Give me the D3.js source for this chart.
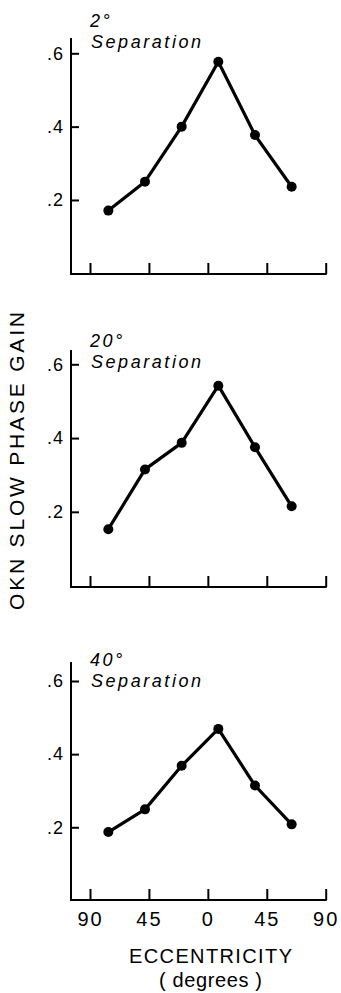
<!DOCTYPE html>
<html><head><meta charset="utf-8">
<script src="https://cdn.jsdelivr.net/npm/d3@7"></script>
<style>body{margin:0;background:#fff}svg{display:block}</style>
</head><body><svg id="c" width="341" height="993"></svg>
<script>
// ---- data ----
const eccentricity = [-76, -48, -20, 8, 36, 64];
const separations = ["2°", "20°", "40°"];
const gain2 = [0.171, 0.25, 0.40, 0.577, 0.377, 0.236];
const gain20 = [0.153, 0.315, 0.387, 0.542, 0.375, 0.215];
const gain40 = [0.187, 0.249, 0.368, 0.469, 0.314, 0.208];
const xTicks = [-90, -45, 0, 45, 90];
const yTicks = [0.2, 0.4, 0.6];
const yLabel = "OKN SLOW PHASE GAIN";
const xLabel = "ECCENTRICITY";
const xUnit = "( degrees )";
const sepWord = "Separation";

// ---- layout ----
const font = "'Liberation Sans', Arial, Helvetica, sans-serif";
const svg = d3.select("#c");
const axisLeftX = 71;
const x = d3.scaleLinear().domain([-90, 90]).range([90, 325.7]);

const panels = [
  {values: gain2,  y0: 273.3, y6: 53.3,  top: 38,  bottom: 274, t1: 27,  t2: 48},
  {values: gain20, y0: 585.6, y6: 364.3, top: 350, bottom: 587, t1: 347, t2: 368},
  {values: gain40, y0: 900.4, y6: 681,   top: 662, bottom: 900, t1: 666, t2: 687}
];

panels.forEach((p, i) => {
  const y = d3.scaleLinear().domain([0, 0.6]).range([p.y0, p.y6]);
  const g = svg.append("g");

  // y axis
  const ya = g.append("g").attr("transform", `translate(${axisLeftX},0)`)
    .call(d3.axisLeft(y).tickValues(yTicks).tickSize(-8).tickPadding(7)
      .tickFormat(d => "." + Math.round(d * 10)));
  ya.select(".domain").remove();
  ya.selectAll(".tick line").attr("stroke", "#000").attr("stroke-width", 2);
  ya.selectAll(".tick text").attr("font-family", font).attr("font-size", 18)
    .attr("fill", "#000").attr("letter-spacing", 1);
  g.append("line").attr("x1", axisLeftX).attr("x2", axisLeftX)
    .attr("y1", p.top).attr("y2", p.bottom + 1).attr("stroke", "#000").attr("stroke-width", 2);

  // x axis
  const last = i === panels.length - 1;
  const xa = g.append("g").attr("transform", `translate(0,${p.bottom})`)
    .call(d3.axisBottom(x).tickValues(xTicks).tickSize(-11).tickPadding(12)
      .tickFormat(d => last ? String(Math.abs(d)) : ""));
  xa.select(".domain").remove();
  xa.selectAll(".tick line").attr("stroke", "#000").attr("stroke-width", 2);
  xa.selectAll(".tick text").attr("font-family", font).attr("font-size", 20)
    .attr("fill", "#000").attr("letter-spacing", 2).attr("dy", "0.71em");
  g.append("line").attr("x1", axisLeftX - 1).attr("x2", x(90) + 1)
    .attr("y1", p.bottom).attr("y2", p.bottom).attr("stroke", "#000").attr("stroke-width", 2);

  // series
  const pts = eccentricity.map((e, j) => [e, p.values[j]]);
  g.append("path").datum(pts)
    .attr("d", d3.line().x(d => x(d[0])).y(d => y(d[1])))
    .attr("fill", "none").attr("stroke", "#000").attr("stroke-width", 3.2)
    .attr("stroke-linejoin", "round");
  g.selectAll("circle").data(pts).join("circle")
    .attr("cx", d => x(d[0])).attr("cy", d => y(d[1])).attr("r", 5).attr("fill", "#000");

  // title lines
  g.append("text").attr("x", 90).attr("y", p.t1).text(separations[i])
    .attr("font-family", font).attr("font-style", "italic").attr("font-size", 18)
    .attr("letter-spacing", 2.5);
  g.append("text").attr("x", 91).attr("y", p.t2).text(sepWord)
    .attr("font-family", font).attr("font-style", "italic").attr("font-size", 18)
    .attr("textLength", 110).attr("lengthAdjust", "spacing");
});

// y label
svg.append("text").attr("transform", "translate(24,461) rotate(-90)")
  .attr("text-anchor", "middle").attr("font-family", font).attr("font-size", 21)
  .attr("textLength", 298).attr("lengthAdjust", "spacing").text(yLabel);

// x labels
svg.append("text").attr("x", 129).attr("y", 963).attr("font-family", font).attr("font-size", 20)
  .attr("textLength", 163).attr("lengthAdjust", "spacing").text(xLabel);
svg.append("text").attr("x", 159).attr("y", 987).attr("font-family", font).attr("font-size", 20)
  .attr("textLength", 103).attr("lengthAdjust", "spacing").text(xUnit);
</script>
</body></html>
